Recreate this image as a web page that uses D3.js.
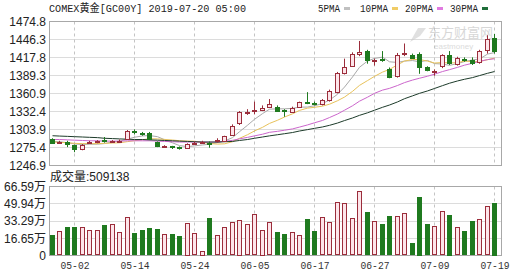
<!DOCTYPE html>
<html>
<head>
<meta charset="utf-8">
<script src="https://cdn.jsdelivr.net/npm/d3@7"></script>
<style>
  html, body { margin: 0; padding: 0; background: #fff; }
  svg { display: block; }
</style>
</head>
<body>
<svg id="chart" width="513" height="275"></svg>
<script>

//--------------------------------------
// DATA
//--------------------------------------

var dates = ["04-29","04-30","05-01","05-02","05-03","05-06","05-07","05-08","05-09","05-10",
  "05-13","05-14","05-15","05-16","05-17","05-20","05-21","05-22","05-23","05-24",
  "05-27","05-28","05-29","05-30","05-31","06-03","06-04","06-05","06-06","06-07",
  "06-10","06-11","06-12","06-13","06-14","06-17","06-18","06-19","06-20","06-21",
  "06-24","06-25","06-26","06-27","06-28","07-01","07-02","07-03","07-04","07-05",
  "07-08","07-09","07-10","07-11","07-12","07-15","07-16","07-17","07-18","07-19"];

var opens = [1288.5,1283,1284,1279,1273,1283,1284,1287,1284,1285,
  1289,1301,1298,1298,1284,1276,1277,1276,1274,1282,
  1283,1283,1285,1285,1295,1313,1330,1332,1335,1340,
  1340,1334,1332,1339,1348,1346,1344,1350,1363,1393,
  1405,1424,1428,1413,1415,1400,1388,1423,1422,1424,
  1403,1395,1403,1421,1408,1416,1414,1410,1430,1449];

var highs = [1290,1286,1286,1280,1281,1286,1287,1292,1287,1288,
  1303,1304,1300,1300,1285,1279,1278,1277,1282,1285,
  1286,1285,1290,1294,1312,1333,1336,1348,1342,1352,
  1342,1336,1340,1348,1363,1348,1352,1367,1395,1416,
  1426,1444,1430,1416,1428,1402,1425,1440,1424,1426,
  1404,1399,1423,1428,1419,1418,1418,1430,1453,1455];

var lows = [1281,1281,1276,1268,1271,1282,1282,1283,1283,1283,
  1288,1296,1294,1287,1276,1275,1273,1272,1273,1280,
  1282,1275,1283,1284,1294,1311,1327,1328,1333,1338,
  1332,1324,1330,1338,1344,1342,1342,1348,1361,1391,
  1403,1420,1408,1405,1411,1385,1386,1420,1416,1392,
  1396,1389,1401,1406,1405,1411,1406,1408,1424,1424];

var closes = [1282,1284.5,1281,1273,1280,1284.5,1285,1285.5,1286,1286,
  1301,1299.5,1296,1289,1277,1277,1275,1274,1281,1283,
  1284,1281,1287,1293,1310,1331,1332,1334,1338,1345,
  1334,1332,1338,1347,1346,1344,1350,1365,1393,1403,
  1424,1427,1414,1414,1413,1387,1422,1425,1418,1403,
  1398,1397,1421,1408,1417,1414,1410,1428,1447,1429];

// volume, in 万
var volumes = [19.4,23.3,27.2,27.2,27.2,24.2,24.2,29.1,30.1,22.3,
  36.9,21.7,24.2,26.2,25.2,20.4,20.4,18.8,31.7,21.3,
  4.8,35.9,19.4,27.2,32.0,34.6,30.1,39.8,24.9,32.0,
  22.3,20.4,22.3,19.4,34.9,23.3,36.9,32.0,51.4,50.4,
  35.9,62.1,41.7,33.0,30.1,37.8,37.8,40.7,11.6,56.6,
  30.1,28.1,42.7,39.1,27.2,23.3,33.0,34.9,47.5,50.9138];

var ma5 = [1285,1284.5,1283,1281,1280.1,1280.6,1280.7,1281.6,1284.2,1285.4,
  1288.7,1291.6,1293.7,1294.3,1292.5,1287.7,1282.8,1278.4,1276.8,1278,
  1279.4,1280.6,1283.2,1285.6,1291,1300.4,1310.6,1320,1329,1336,
  1336.6,1336.6,1337.4,1339.2,1339.4,1341.4,1345,1350.4,1359.6,1371,
  1387,1402.4,1412.2,1416.4,1418.4,1411,1410,1412.2,1413,1411,
  1413.2,1408.2,1407.4,1405.4,1408.2,1411.4,1414,1415.4,1423.2,1425.6];

var ma10 = [1284,1283.5,1283,1282,1281.5,1281.5,1281.5,1282,1282.5,1282.8,
  1284.7,1286.2,1287.7,1289.3,1289,1288.2,1287.2,1286.1,1285.6,1285.3,
  1283.6,1281.7,1280.8,1281.2,1284.5,1289.9,1295.6,1301.6,1307.3,1313.5,
  1318.5,1323.6,1328.7,1334.1,1337.7,1339,1340.8,1343.9,1349.4,1355.2,
  1364.2,1373.7,1381.3,1388,1394.7,1399,1406.2,1412.2,1414.7,1414.7,
  1412.1,1409.1,1409.8,1409.2,1409.6,1412.3,1411.1,1411.4,1414.3,1416.9];

var ma20 = [1288,1288,1287.5,1287,1286.5,1286,1286,1285.5,1285.5,1285.5,
  1286,1286,1286,1286,1285.5,1285,1284.5,1284,1284,1284,
  1284.1,1283.9,1284.2,1285.2,1286.7,1289.1,1291.4,1293.8,1296.4,1299.4,
  1301,1302.7,1304.8,1307.7,1311.1,1314.5,1318.2,1322.8,1328.4,1334.4,
  1341.4,1348.7,1355,1361.1,1366.2,1369,1373.5,1378.1,1382.1,1385,
  1388.2,1391.4,1395.6,1398.6,1402.2,1405.7,1408.7,1411.8,1414.5,1415.8];

var ma30 = [1294,1293.5,1293,1292.5,1292,1291.5,1291,1290,1289.5,1289,
  1288.5,1288,1288,1287.5,1287,1286.5,1286,1285.5,1285,1284.5,
  1284,1284,1284,1284.5,1285,1286.5,1288,1290,1292,1293.8,
  1295.6,1297.2,1299.1,1301.5,1303.7,1305.7,1307.9,1310.5,1314.1,1318,
  1322.1,1326.3,1330.3,1334.4,1339,1342.6,1347.5,1352.6,1357.1,1361.1,
  1364.9,1368.8,1373.3,1377.1,1380.7,1383.4,1386,1389.2,1392.8,1395.6];

var priceTicks = [1246.9,1275.4,1303.9,1332.4,1360.9,1389.3,1417.8,1446.3,1474.8];
var volumeTicks = [0,16.65,33.29,49.94,66.59];
var volumeTickLabels = ["0","16.65万","33.29万","49.94万","66.59万"];
var dateTicks = ["05-02","05-14","05-24","06-05","06-17","06-27","07-09","07-19"];

var maNames = ["5PMA","10PMA","20PMA","30PMA"];
var maSeries = [ma5, ma10, ma20, ma30];


//--------------------------------------
// SETUP
//--------------------------------------

var svg = d3.select("#chart");
var monoFont = '"Liberation Mono", "DejaVu Sans Mono", "Noto Sans CJK SC", monospace';
var sansFont = 'Arial, "Liberation Sans", "Noto Sans CJK SC", sans-serif';

var upStroke = "#9b2d3b", upFill = "#fde5ea", downColor = "#1f7a1f";
var maColors = ["#a9a9a9", "#e8c25a", "#cc66cc", "#1d3b2a"];
var maLegendColors = ["#c0c0c0", "#f0cc66", "#e07ae0", "#1f6e3a"];

var left = 49, right = 502;
var priceTop = 21.5, priceBottom = 165.5;
var volTop = 186.5, volBottom = 255.5;

var x = d3.scaleBand().domain(dates).range([48.75, 498.75])
  .paddingInner(0.3).paddingOuter(0.15);

var yP = d3.scaleLinear().domain([1246.9, 1474.8]).range([priceBottom, priceTop]);
var yV = d3.scaleLinear().domain([0, 66.59]).range([volBottom, volTop]);


function _left(d)   { return Math.round(x(d)) + 0.5; }
function _center(d) { return Math.round(x(d)) + 2.5; }
function _isUp(i)   { return closes[i] >= opens[i]; }



//--------------------------------------
// GRID
//--------------------------------------

function _drawGrid() {

  var g = svg.append("g");

  // horizontal lines
  g.selectAll("line.hp").data(priceTicks).enter().append("line")
    .attr("x1", left).attr("x2", right)
    .attr("y1", function(d){ return Math.round(yP(d) - 0.5) + 0.5; })
    .attr("y2", function(d){ return Math.round(yP(d) - 0.5) + 0.5; })
    .attr("stroke", "#dcdcdc");

  g.selectAll("line.hv").data(volumeTicks).enter().append("line")
    .attr("x1", left).attr("x2", right)
    .attr("y1", function(d){ return Math.round(yV(d) - 0.5) + 0.5; })
    .attr("y2", function(d){ return Math.round(yV(d) - 0.5) + 0.5; })
    .attr("stroke", "#dcdcdc");

  // dashed verticals at the date labels
  [[priceTop, priceBottom], [volTop, volBottom]].forEach(function(r) {
    g.selectAll(null).data(dateTicks).enter().append("line")
      .attr("x1", _center).attr("x2", _center)
      .attr("y1", r[0]).attr("y2", r[1])
      .attr("stroke", "#c4c4c4")
      .attr("stroke-dasharray", "3,3");
  });

  // frames
  g.append("rect").attr("x", left + 0.5).attr("y", priceTop)
    .attr("width", right - left - 1).attr("height", priceBottom - priceTop)
    .attr("fill", "none").attr("stroke", "#a8a8a8");

  g.append("rect").attr("x", left + 0.5).attr("y", volTop)
    .attr("width", right - left - 1).attr("height", volBottom - volTop)
    .attr("fill", "none").attr("stroke", "#a8a8a8");
}



//--------------------------------------
// WATERMARK
//--------------------------------------

function _drawWatermark() {

  var g = svg.append("g").attr("opacity", 0.55);

  g.append("path")
    .attr("d", "M410,42 L418,28 L426,28 L420,36 Z")
    .attr("fill", "#c8c8c8");

  g.append("text").attr("x", 428).attr("y", 37)
    .attr("font-family", '"Noto Sans CJK SC", sans-serif')
    .attr("font-size", 13).attr("fill", "#b8b8b8")
    .text("东方财富网");

  g.append("text").attr("x", 434).attr("y", 49)
    .attr("font-family", sansFont)
    .attr("font-size", 8).attr("fill", "#c0c0c0")
    .text("eastmoney");
}



//--------------------------------------
// PRICE PANEL
//--------------------------------------

function _drawCandles() {

  var g = svg.append("g");
  var idx = d3.range(dates.length);

  g.selectAll("line.wick").data(idx).enter().append("line")
    .attr("x1", function(i){ return _center(dates[i]); })
    .attr("x2", function(i){ return _center(dates[i]); })
    .attr("y1", function(i){ return yP(highs[i]); })
    .attr("y2", function(i){ return yP(lows[i]); })
    .attr("stroke", function(i){ return _isUp(i) ? upStroke : downColor; });

  g.selectAll("rect.body").data(idx).enter().append("rect")
    .attr("x", function(i){ return _left(dates[i]); })
    .attr("width", 4)
    .attr("y", function(i){ return Math.round(yP(Math.max(opens[i], closes[i]))) + 0.5; })
    .attr("height", function(i){
      return Math.max(0, Math.round(Math.abs(yP(opens[i]) - yP(closes[i]))));
    })
    .attr("fill", function(i){ return _isUp(i) ? upFill : downColor; })
    .attr("stroke", function(i){ return _isUp(i) ? upStroke : downColor; });
}


function _drawMovingAverages() {

  var g = svg.append("g");

  maSeries.forEach(function(series, k) {
    var line = d3.line()
      .x(function(d, i){ return _center(dates[i]); })
      .y(function(d){ return yP(d); })
      .curve(d3.curveLinear);

    g.append("path").datum(series)
      .attr("d", line)
      .attr("fill", "none")
      .attr("stroke", maColors[k])
      .attr("stroke-width", 1);
  });
}



//--------------------------------------
// VOLUME PANEL
//--------------------------------------

function _drawVolume() {

  var g = svg.append("g");

  g.selectAll("rect").data(volumes).enter().append("rect")
    .attr("x", function(d, i){ return _left(dates[i]); })
    .attr("width", 4)
    .attr("y", function(d){ return Math.round(yV(d)) + 0.5; })
    .attr("height", function(d){ return Math.max(1, Math.round(yV(0) - yV(d)) - 1); })
    .attr("fill", function(d, i){ return _isUp(i) ? upFill : downColor; })
    .attr("stroke", function(d, i){ return _isUp(i) ? upStroke : downColor; });
}



//--------------------------------------
// AXES + TEXT
//--------------------------------------

function _styleAxis(sel) {
  sel.select(".domain").remove();
  sel.selectAll("text").attr("fill", "#222");
}

function _drawAxes() {

  svg.append("g")
    .attr("transform", "translate(" + (left - 1) + ",0)")
    .call(d3.axisLeft(yP).tickValues(priceTicks).tickSize(0).tickPadding(2)
      .tickFormat(d3.format(".1f")))
    .attr("font-family", sansFont).attr("font-size", 12)
    .call(_styleAxis);

  svg.append("g")
    .attr("transform", "translate(" + (left - 1) + ",0)")
    .call(d3.axisLeft(yV).tickValues(volumeTicks).tickSize(0).tickPadding(2)
      .tickFormat(function(d, i){ return volumeTickLabels[i]; }))
    .attr("font-family", sansFont).attr("font-size", 12)
    .call(_styleAxis);

  var xAxis = svg.append("g")
    .attr("transform", "translate(0," + volBottom + ")")
    .call(d3.axisBottom(x).tickValues(dateTicks).tickSize(0).tickPadding(6))
    .attr("font-family", monoFont).attr("font-size", 11)
    .call(_styleAxis);

  xAxis.selectAll("text")
    .attr("textLength", 29).attr("lengthAdjust", "spacingAndGlyphs")
    .attr("fill", "#333");
}


function _drawTexts() {

  svg.append("text")
    .attr("x", 49).attr("y", 12)
    .attr("font-family", monoFont).attr("font-size", 11)
    .attr("fill", "#222")
    .attr("textLength", 197).attr("lengthAdjust", "spacingAndGlyphs")
    .text("COMEX黄金[GC00Y] 2019-07-20 05:00");

  svg.append("text")
    .attr("x", 50).attr("y", 181)
    .attr("font-family", sansFont).attr("font-size", 12)
    .attr("fill", "#222")
    .text("成交量:" + Math.round(volumes[volumes.length - 1] * 10000));

  // legend
  var legendX = [318, 360, 405, 450];
  var legendW = [22, 28, 28, 28];

  var lg = svg.append("g");

  maNames.forEach(function(name, k) {
    lg.append("text")
      .attr("x", legendX[k]).attr("y", 12)
      .attr("font-family", monoFont).attr("font-size", 11)
      .attr("fill", "#222")
      .attr("textLength", legendW[k]).attr("lengthAdjust", "spacingAndGlyphs")
      .text(name);

    lg.append("rect")
      .attr("x", legendX[k] + legendW[k] + 4).attr("y", 7)
      .attr("width", 6).attr("height", 3)
      .attr("fill", maLegendColors[k]);
  });
}



_drawGrid();
_drawWatermark();
_drawMovingAverages();
_drawCandles();
_drawVolume();
_drawAxes();
_drawTexts();

</script>
</body>
</html>
